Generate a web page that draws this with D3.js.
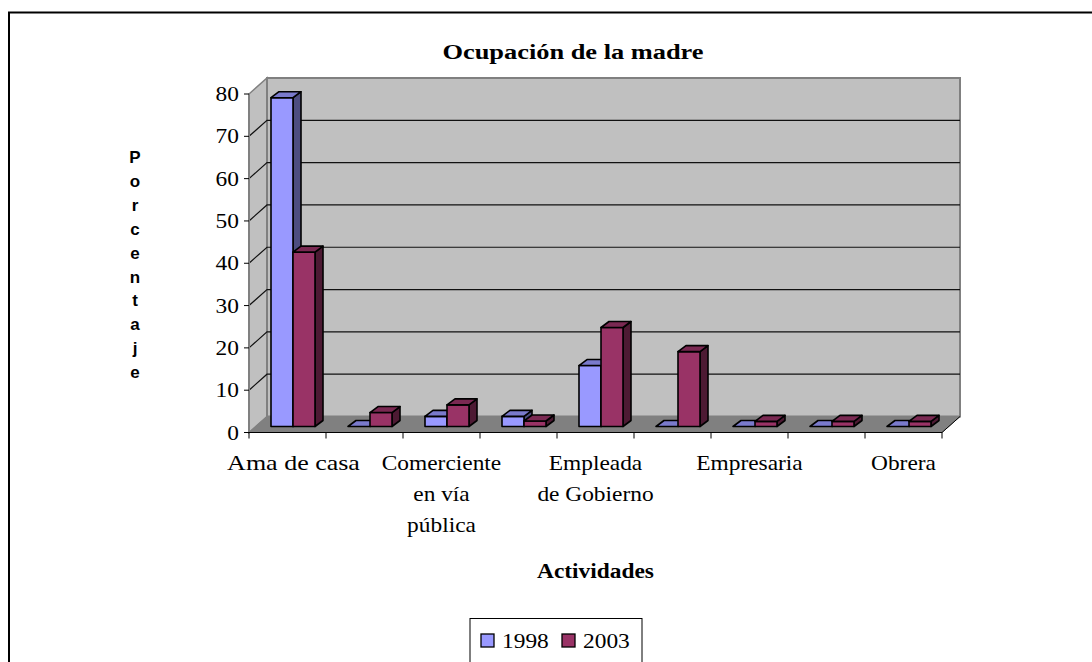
<!DOCTYPE html>
<html><head><meta charset="utf-8">
<script src="https://cdn.jsdelivr.net/npm/d3@7"></script>
<style>body{margin:0;background:#fff}svg{display:block}</style>
</head><body>
<svg id="c" width="1092" height="662"></svg>
<script>
// ---- data ----
const categories = ["Ama de casa", "", "Comerciente\nen vía\npública", "", "Empleada\nde Gobierno", "", "Empresaria", "", "Obrera"];
const seriesNames = ["1998", "2003"];
const values1998 = [77.7, 0, 2.4, 2.4, 14.4, 0, 0, 0, 0];
const values2003 = [41.2, 3.3, 5.1, 1.3, 23.4, 17.7, 1.2, 1.2, 1.2];
const yTicks = [0, 10, 20, 30, 40, 50, 60, 70, 80];
const title = "Ocupación de la madre";
const xTitle = "Actividades";
const yTitle = "Porcentaje";

const colors = {
  "1998": {front: "#9999FF", side: "#4D4D80", top: "#7A7ACC"},
  "2003": {front: "#993366", side: "#4D1A33", top: "#7A2952"}
};

const svg = d3.select("#c");
const serif = "'Liberation Serif','Times New Roman',serif";
const SX = 1.17;

// outer border
svg.append("rect").attr("x", 9).attr("y", 12.5).attr("width", 1120).attr("height", 720)
  .attr("fill", "#fff").attr("stroke", "#000").attr("stroke-width", 2);

// geometry
const x0 = 249, x1 = 942, yBottom = 432.5, yTop = 94;
const DX = 18, DY = -16;      // wall depth
const BX = 5.5, BY = -6;      // bar front offset
const BDX = 8, BDY = -6;      // bar depth

const y = d3.scaleLinear().domain([0, 80]).range([yBottom, yTop]);
const xCat = d3.scaleBand().domain(d3.range(categories.length)).range([x0, x1]).padding(0);
const xSer = d3.scaleBand().domain(seriesNames).range([0, xCat.bandwidth()]).paddingInner(0).paddingOuter(0.75);

// left wall
svg.append("path")
  .attr("d", `M${x0},${y(80)}L${x0 + DX},${y(80) + DY}L${x0 + DX},${y(0) + DY}L${x0},${y(0)}Z`)
  .attr("fill", "#C0C0C0").attr("stroke", "#808080").attr("stroke-width", 1.5);
// back wall
svg.append("rect").attr("x", x0 + DX).attr("y", y(80) + DY)
  .attr("width", x1 - x0).attr("height", y(0) - y(80))
  .attr("fill", "#C0C0C0").attr("stroke", "#808080").attr("stroke-width", 2);
// floor
svg.append("path")
  .attr("d", `M${x0},${y(0)}L${x1},${y(0)}L${x1 + DX},${y(0) + DY}L${x0 + DX},${y(0) + DY}Z`)
  .attr("fill", "#808080").attr("stroke", "#808080").attr("stroke-width", 1);

// gridlines
const grid = svg.append("g").attr("stroke", "#111").attr("stroke-width", 1.2).attr("fill", "none");
yTicks.filter(t => t > 0 && t < 80).forEach(t => {
  grid.append("path").attr("d", `M${x0},${y(t)}L${x0 + DX},${y(t) + DY}L${x1 + DX},${y(t) + DY}`);
});

// bars
const barW = xSer.bandwidth();
const seriesVals = {"1998": values1998, "2003": values2003};
const barsG = svg.append("g").attr("stroke", "#000").attr("stroke-width", 1.6).attr("stroke-linejoin", "round");
categories.forEach((c, i) => {
  seriesNames.forEach(s => {
    const v = seriesVals[s][i];
    const bx0 = xCat(i) + xSer(s) + BX, bx1 = bx0 + barW;
    const yb = y(0) + BY, yt = y(v) + BY;
    const col = colors[s];
    const g = barsG.append("g");
    if (v > 0) {
      g.append("path").attr("fill", col.side)
        .attr("d", `M${bx1},${yt}L${bx1 + BDX},${yt + BDY}L${bx1 + BDX},${yb + BDY}L${bx1},${yb}Z`);
      g.append("rect").attr("x", bx0).attr("y", yt).attr("width", barW).attr("height", yb - yt).attr("fill", col.front);
    }
    g.append("path").attr("fill", col.top)
      .attr("d", `M${bx0},${yt}L${bx0 + BDX},${yt + BDY}L${bx1 + BDX},${yt + BDY}L${bx1},${yt}Z`);
  });
});

// y axis
const yAxisG = svg.append("g");
yAxisG.append("line").attr("x1", x0).attr("x2", x0).attr("y1", y(0)).attr("y2", y(80))
  .attr("stroke", "#808080").attr("stroke-width", 2);
yTicks.forEach(t => {
  yAxisG.append("line").attr("x1", x0 - 5).attr("x2", x0).attr("y1", y(t)).attr("y2", y(t))
    .attr("stroke", "#000").attr("stroke-width", 1);
  yAxisG.append("text").attr("transform", `translate(${x0 - 10},${y(t) + 7}) scale(${SX},1)`)
    .attr("text-anchor", "end").attr("font-family", serif).attr("font-size", 20).text(t);
});

// x axis
const xAxisG = svg.append("g");
xAxisG.append("line").attr("x1", x0).attr("x2", x1).attr("y1", y(0)).attr("y2", y(0))
  .attr("stroke", "#000").attr("stroke-width", 1);
xAxisG.append("line").attr("x1", x1).attr("x2", x1 + DX).attr("y1", y(0)).attr("y2", y(0) + DY)
  .attr("stroke", "#000").attr("stroke-width", 1);
d3.range(categories.length + 1).forEach(i => {
  const xx = i < categories.length ? xCat(i) : x1;
  xAxisG.append("line").attr("x1", xx).attr("x2", xx).attr("y1", y(0)).attr("y2", y(0) + 6)
    .attr("stroke", "#000").attr("stroke-width", 1);
});
categories.forEach((c, i) => {
  if (!c) return;
  const cx = xCat(i) + xCat.bandwidth() / 2 + (i === 0 ? 6 : 0);
  const sx = i === 0 ? 1.3 : SX;
  c.split("\n").forEach((line, k) => {
    xAxisG.append("text").attr("transform", `translate(${cx},${470 + k * 31}) scale(${sx},1)`)
      .attr("text-anchor", "middle").attr("font-family", serif).attr("font-size", 20).text(line);
  });
});

// titles
svg.append("text").attr("transform", `translate(573,59) scale(1.2,1)`)
  .attr("text-anchor", "middle").attr("font-family", serif).attr("font-weight", "bold")
  .attr("font-size", 22).text(title);
svg.append("text").attr("transform", `translate(595.5,578) scale(${SX},1)`)
  .attr("text-anchor", "middle").attr("font-family", serif).attr("font-weight", "bold")
  .attr("font-size", 20).text(xTitle);
const yt = svg.append("text").attr("font-family", "'Liberation Sans',Arial,sans-serif")
  .attr("font-weight", "bold").attr("font-size", 17).attr("text-anchor", "middle");
yTitle.split("").forEach((ch, k) => {
  yt.append("tspan").attr("x", 135).attr("y", 163 + k * 23.9).text(ch);
});

// legend
const lg = svg.append("g");
lg.append("rect").attr("x", 470).attr("y", 618.5).attr("width", 172).attr("height", 80)
  .attr("fill", "#fff").attr("stroke", "#000").attr("stroke-width", 1);
const legX = [481, 562];
seriesNames.forEach((s, k) => {
  lg.append("rect").attr("x", legX[k]).attr("y", 634).attr("width", 13).attr("height", 13)
    .attr("fill", colors[s].front).attr("stroke", "#000").attr("stroke-width", 1.3);
  lg.append("text").attr("transform", `translate(${legX[k] + 21},${648}) scale(${SX},1)`)
    .attr("font-family", serif).attr("font-size", 20).text(s);
});
</script>
</body></html>
